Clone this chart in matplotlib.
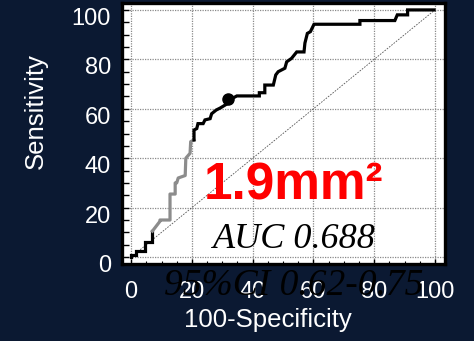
import matplotlib
matplotlib.use("Agg")
import matplotlib.pyplot as plt
from matplotlib.ticker import MultipleLocator
from matplotlib.transforms import ScaledTranslation

# ROC curve vertices (100-Specificity, Sensitivity)
black1_x = [0, 0, 1.5, 1.5, 4.6, 4.6, 7.0, 7.0]
black1_y = [0, 1.0, 1.0, 2.5, 2.5, 6.0, 6.0, 10.5]

gray_x = [7.0, 9.5, 9.5, 12.8, 12.8, 14.5, 14.5, 15.0, 15.5, 17.8, 18.0, 19.4, 19.6, 20.7]
gray_y = [10.5, 14.5, 15.0, 15.0, 25.5, 25.5, 30.0, 30.0, 32.0, 33.0, 40.0, 42.0, 46.7, 47.4]

black2_x = [20.7, 20.7, 21.6, 22.0, 23.7, 24.3, 26.0, 26.5, 28.0, 29.3, 31.6, 33.6, 34.8,
            42.2, 42.2, 44.0, 44.0, 46.8, 47.6, 48.4, 50.6, 51.2, 52.8, 54.5, 56.9, 57.2,
            58.0, 59.0, 60.2, 75.3, 75.3, 86.8, 87.6, 91.0, 91.0, 99.7]
black2_y = [47.4, 51.4, 52.0, 54.0, 54.0, 55.5, 56.0, 58.0, 59.5, 60.3, 62.0, 64.4, 65.2,
            65.2, 66.5, 66.5, 69.6, 69.6, 73.7, 75.0, 76.4, 79.0, 80.4, 83.0, 83.0, 86.6,
            90.5, 91.2, 94.2, 94.2, 95.7, 95.7, 98.0, 98.0, 100.0, 100.0]

cutoff_x = [32.0]
cutoff_y = [64.0]

diag = [0, 100]
ticks = [0, 20, 40, 60, 80, 100]

title_text = "1.9mm\u00b2"
auc_text = "AUC 0.688"
ci_text = "95%CI 0.62-0.75"

bg = "#0b1932"
fig = plt.figure(figsize=(4.74, 3.41), dpi=100, facecolor=bg)
ax = fig.add_axes([0.2574, 0.2258, 0.6814, 0.7654])
ax.set_facecolor("white")

ax.set_xlim(-3, 103.3)
ax.set_ylim(-2.8, 102.8)

ax.set_xticks(ticks)
ax.set_yticks(ticks)
ax.xaxis.set_minor_locator(MultipleLocator(5))
ax.yaxis.set_minor_locator(MultipleLocator(5))

ax.grid(True, which="major", color="#8a8a8a", linestyle=(0, (1, 1)), linewidth=0.9)
ax.set_axisbelow(True)

ax.plot(diag, diag, color="#555555", linewidth=0.6, linestyle=(0, (2, 1.5)), zorder=2)
ax.plot(black1_x, black1_y, color="black", linewidth=2.3, solid_joinstyle="miter", zorder=4)
ax.plot(gray_x, gray_y, color="#8c8c8c", linewidth=2.3, zorder=4)
ax.plot(black2_x, black2_y, color="black", linewidth=2.3, solid_joinstyle="miter", zorder=4)
ax.plot(cutoff_x, cutoff_y, marker="o", markersize=8, color="black", linestyle="none", zorder=5)

for s in ax.spines.values():
    s.set_linewidth(2.4)
    s.set_color("black")

ax.tick_params(axis="y", which="both", direction="in", length=5, width=1.0,
               color="black", labelcolor="white", labelsize=17, pad=8)
ax.tick_params(axis="x", which="major", direction="in", length=3.5, width=1.0,
               color="black", labelcolor="white", labelsize=17, pad=12)
ax.tick_params(axis="x", which="minor", direction="in", length=2.5, width=0.8, color="black")
for lab in ax.get_xticklabels() + ax.get_yticklabels():
    lab.set_fontfamily("Liberation Sans")

shift = ScaledTranslation(0, -0.065, fig.dpi_scale_trans)
for lab in ax.get_yticklabels():
    lab.set_transform(lab.get_transform() + shift)

ax.set_xlabel("100-Specificity", color="white", fontsize=18.5, family="Liberation Sans")
ax.set_ylabel("Sensitivity", color="white", fontsize=18.5, family="Liberation Sans")
ax.xaxis.set_label_coords(0.452, -0.17)
ax.yaxis.set_label_coords(-0.23, 0.585)

ax.text(53.6, 23.1, title_text, color="#ff0000", fontsize=37, fontweight="bold",
        family="Liberation Sans", ha="center", va="baseline", zorder=6)
ax.text(53.6, 3.6, auc_text, color="black", fontsize=26, style="italic",
        family="Liberation Serif", ha="center", va="baseline", zorder=6)
ax.text(53.5, -15.4, ci_text, color="black", fontsize=27, style="italic",
        family="Liberation Serif", ha="center", va="baseline", zorder=1, clip_on=False)

fig.savefig("out.png", dpi=100, facecolor=bg)
